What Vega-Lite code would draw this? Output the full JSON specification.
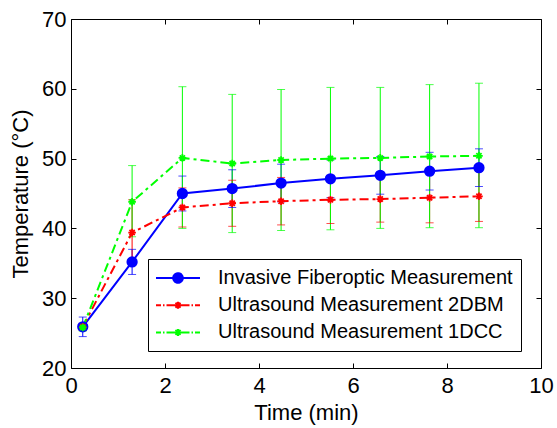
{
  "$schema": "https://vega.github.io/schema/vega-lite/v6.json",
  "width": 470,
  "height": 349,
  "autosize": "none",
  "padding": {"left": 71, "top": 19, "right": 16, "bottom": 60},
  "background": "white",
  "config": {
    "view": {"stroke": null},
    "axis": {
      "domainColor": "black", "domainWidth": 1, "tickColor": "black", "tickWidth": 1,
      "labelColor": "black", "titleColor": "black",
      "labelFont": "Liberation Sans", "titleFont": "Liberation Sans",
      "labelFontSize": 22, "titleFontSize": 22, "titleFontWeight": "normal",
      "grid": false, "tickSize": -5, "labelOverlap": false, "labelFlush": false
    },
    "legend": {
      "labelFont": "Liberation Sans", "labelFontSize": 20, "labelColor": "black", "labelLimit": 500
    }
  },
  "data": {
    "values": [
      {"series": "Invasive Fiberoptic Measurement", "t": 0.25, "temp": 25.9, "lo": 24.5, "hi": 27.3},
      {"series": "Invasive Fiberoptic Measurement", "t": 1.3, "temp": 35.2, "lo": 33.4, "hi": 37.0},
      {"series": "Invasive Fiberoptic Measurement", "t": 2.37, "temp": 45.0, "lo": 42.5, "hi": 47.5},
      {"series": "Invasive Fiberoptic Measurement", "t": 3.43, "temp": 45.7, "lo": 43.0, "hi": 48.4},
      {"series": "Invasive Fiberoptic Measurement", "t": 4.47, "temp": 46.5, "lo": 43.8, "hi": 49.2},
      {"series": "Invasive Fiberoptic Measurement", "t": 5.52, "temp": 47.1, "lo": 44.4, "hi": 49.8},
      {"series": "Invasive Fiberoptic Measurement", "t": 6.58, "temp": 47.6, "lo": 44.9, "hi": 50.3},
      {"series": "Invasive Fiberoptic Measurement", "t": 7.63, "temp": 48.2, "lo": 45.5, "hi": 50.9},
      {"series": "Invasive Fiberoptic Measurement", "t": 8.68, "temp": 48.7, "lo": 46.0, "hi": 51.4},
      {"series": "Ultrasound Measurement 2DBM", "t": 0.25, "temp": 25.9, "lo": 25.4, "hi": 26.4},
      {"series": "Ultrasound Measurement 2DBM", "t": 1.3, "temp": 39.4, "lo": 34.7, "hi": 44.1},
      {"series": "Ultrasound Measurement 2DBM", "t": 2.37, "temp": 43.0, "lo": 40.2, "hi": 45.8},
      {"series": "Ultrasound Measurement 2DBM", "t": 3.43, "temp": 43.6, "lo": 40.3, "hi": 46.9},
      {"series": "Ultrasound Measurement 2DBM", "t": 4.47, "temp": 43.9, "lo": 40.5, "hi": 47.3},
      {"series": "Ultrasound Measurement 2DBM", "t": 5.52, "temp": 44.1, "lo": 40.7, "hi": 47.5},
      {"series": "Ultrasound Measurement 2DBM", "t": 6.58, "temp": 44.2, "lo": 40.9, "hi": 47.5},
      {"series": "Ultrasound Measurement 2DBM", "t": 7.63, "temp": 44.4, "lo": 40.8, "hi": 48.0},
      {"series": "Ultrasound Measurement 2DBM", "t": 8.68, "temp": 44.6, "lo": 41.0, "hi": 48.2},
      {"series": "Ultrasound Measurement 1DCC", "t": 0.25, "temp": 25.8, "lo": 25.3, "hi": 26.3},
      {"series": "Ultrasound Measurement 1DCC", "t": 1.3, "temp": 43.8, "lo": 38.8, "hi": 49.0},
      {"series": "Ultrasound Measurement 1DCC", "t": 2.37, "temp": 50.1, "lo": 40.0, "hi": 60.3},
      {"series": "Ultrasound Measurement 1DCC", "t": 3.43, "temp": 49.3, "lo": 39.4, "hi": 59.2},
      {"series": "Ultrasound Measurement 1DCC", "t": 4.47, "temp": 49.8, "lo": 39.7, "hi": 59.9},
      {"series": "Ultrasound Measurement 1DCC", "t": 5.52, "temp": 50.0, "lo": 39.8, "hi": 60.2},
      {"series": "Ultrasound Measurement 1DCC", "t": 6.58, "temp": 50.1, "lo": 40.0, "hi": 60.2},
      {"series": "Ultrasound Measurement 1DCC", "t": 7.63, "temp": 50.3, "lo": 40.1, "hi": 60.6},
      {"series": "Ultrasound Measurement 1DCC", "t": 8.68, "temp": 50.4, "lo": 40.1, "hi": 60.8}
    ]
  },
  "resolve": {"axis": {"x": "independent", "y": "independent"}},
  "layer": [
    {
      "mark": {"type": "rule", "strokeWidth": 1},
      "encoding": {
        "x": {"field": "t", "type": "quantitative", "scale": {"domain": [0, 10], "nice": false},
              "axis": {"orient": "bottom", "values": [0, 2, 4, 6, 8, 10], "title": "Time (min)", "labelPadding": 12, "titlePadding": 6}},
        "y": {"field": "lo", "type": "quantitative", "scale": {"domain": [20, 70], "nice": false},
              "axis": {"orient": "left", "values": [20, 30, 40, 50, 60, 70], "title": "Temperature (°C)", "labelPadding": 10, "titlePadding": 9}},
        "y2": {"field": "hi"},
        "color": {
          "field": "series", "type": "nominal",
          "scale": {"domain": ["Invasive Fiberoptic Measurement", "Ultrasound Measurement 2DBM", "Ultrasound Measurement 1DCC"],
                    "range": ["#0000ff", "#ff0000", "#00ff00"]},
          "legend": {
            "title": null, "orient": "none", "legendX": 77, "legendY": 240,
            "fillColor": "white", "strokeColor": "black", "padding": 8,
            "symbolSize": 400, "symbolOffset": 11, "labelOffset": 29, "rowPadding": 6.2,
            "labelExpr": "datum.label + '\u00a0\u00a0\u00a0'",
            "encode": {
              "symbols": {
                "update": {
                  "shape": {"signal": "datum.value === 'Invasive Fiberoptic Measurement' ? 'M-2.2,0L2.2,0M-0.48,0A0.48,0.48 0 1,1 0.48,0A0.48,0.48 0 1,1 -0.48,0Z' : 'M-2.2,0L-1.7,0M-1.5,0L-1.35,0M-1.15,0L-0.3,0M0.3,0L1.15,0M1.35,0L1.5,0M1.7,0L2.2,0M0,-0.35L0,0.35M-0.35,0L0.35,0M-0.25,-0.25L0.25,0.25M-0.25,0.25L0.25,-0.25'"},
                  "size": {"value": 400},
                  "strokeWidth": {"value": 2},
                  "stroke": {"scale": "color", "field": "value"},
                  "fill": {"signal": "datum.value === 'Invasive Fiberoptic Measurement' ? '#0000ff' : 'transparent'"},
                  "strokeDash": {"value": [1, 0]},
                  "opacity": {"value": 1},
                  "fillOpacity": {"value": 1},
                  "strokeOpacity": {"value": 1}
                }
              }
            }
          }
        }
      }
    },
    {
      "mark": {"type": "tick", "orient": "horizontal", "size": 8, "thickness": 1},
      "encoding": {
        "x": {"field": "t", "type": "quantitative", "axis": null},
        "y": {"field": "lo", "type": "quantitative", "axis": null},
        "color": {"field": "series", "type": "nominal"}
      }
    },
    {
      "mark": {"type": "tick", "orient": "horizontal", "size": 8, "thickness": 1},
      "encoding": {
        "x": {"field": "t", "type": "quantitative", "axis": null},
        "y": {"field": "hi", "type": "quantitative", "axis": null},
        "color": {"field": "series", "type": "nominal"}
      }
    },
    {
      "transform": [{"filter": "datum.series === 'Invasive Fiberoptic Measurement'"}],
      "mark": {"type": "line", "strokeWidth": 2},
      "encoding": {
        "x": {"field": "t", "type": "quantitative",
              "axis": {"orient": "top", "values": [0, 2, 4, 6, 8, 10], "labels": false, "title": null}},
        "y": {"field": "temp", "type": "quantitative",
              "axis": {"orient": "right", "values": [20, 30, 40, 50, 60, 70], "labels": false, "title": null}},
        "color": {"field": "series", "type": "nominal"}
      }
    },
    {
      "transform": [{"filter": "datum.series !== 'Invasive Fiberoptic Measurement'"}],
      "mark": {"type": "line", "strokeWidth": 2, "strokeDash": [9, 4, 3, 4]},
      "encoding": {
        "x": {"field": "t", "type": "quantitative", "axis": null},
        "y": {"field": "temp", "type": "quantitative", "axis": null},
        "color": {"field": "series", "type": "nominal"}
      }
    },
    {
      "transform": [{"filter": "datum.series === 'Invasive Fiberoptic Measurement'"}],
      "mark": {"type": "point", "shape": "circle", "filled": true, "size": 90, "stroke": "#0000ff", "strokeWidth": 1.8, "opacity": 1},
      "encoding": {
        "x": {"field": "t", "type": "quantitative", "axis": null},
        "y": {"field": "temp", "type": "quantitative", "axis": null},
        "color": {"field": "series", "type": "nominal"}
      }
    },
    {
      "transform": [{"filter": "datum.series !== 'Invasive Fiberoptic Measurement'"}],
      "mark": {"type": "point", "shape": "M0,-0.8L0,0.8M-0.8,0L0.8,0M-0.55,-0.55L0.55,0.55M-0.55,0.55L0.55,-0.55", "filled": false, "size": 90, "strokeWidth": 1.8, "opacity": 1},
      "encoding": {
        "x": {"field": "t", "type": "quantitative", "axis": null},
        "y": {"field": "temp", "type": "quantitative", "axis": null},
        "color": {"field": "series", "type": "nominal"}
      }
    }
  ]
}
